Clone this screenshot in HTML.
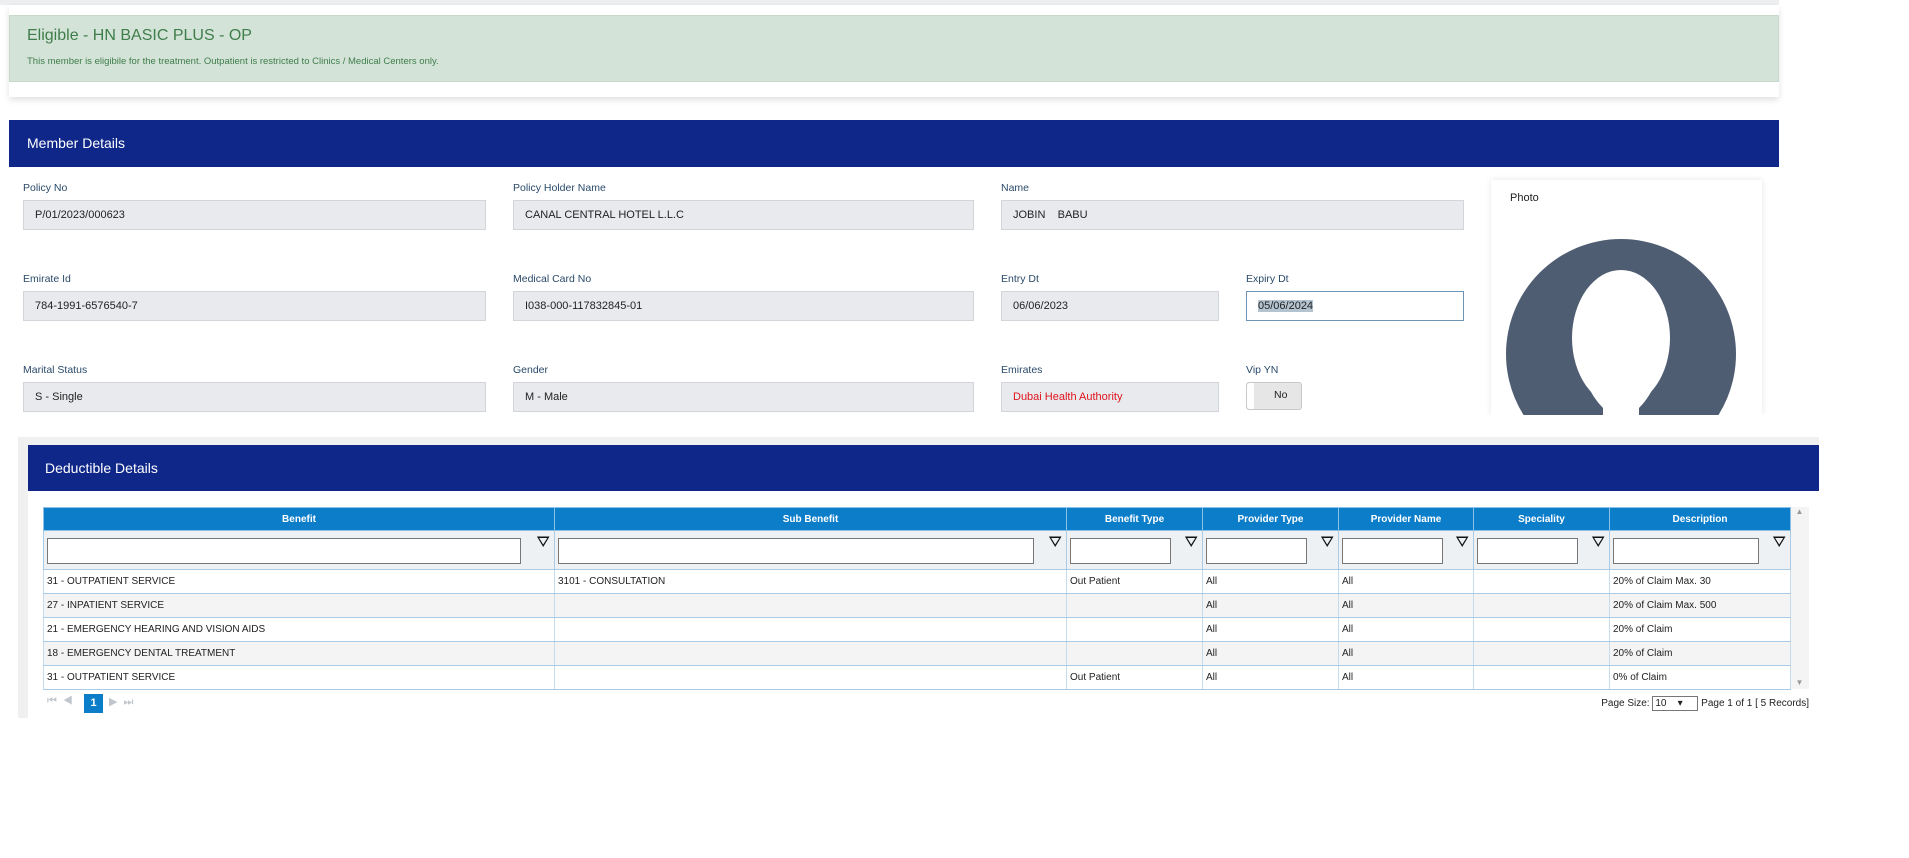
<!DOCTYPE html>
<html><head><style>
*{box-sizing:border-box;margin:0;padding:0}
body{width:1909px;height:858px;background:#fff;position:relative;overflow:hidden;font-family:"Liberation Sans",sans-serif}
.a{position:absolute}
.lbl{position:absolute;font-size:10.5px;color:#2a4a6a}
.inp{position:absolute;height:30px;background:#e8eaed;border:1px solid #d2d6da;font-size:11px;color:#222;padding-left:11px;line-height:28px}
.hdr{position:absolute;background:#0f2789;color:#fff;font-size:14px}
table{border-collapse:collapse;font-size:10px;color:#222;table-layout:fixed}
td,th{border:1px solid #a9cbe8;padding:0 3px;white-space:nowrap;overflow:hidden}
th{background:#0b7dc9;color:#fff;font-size:10px;height:23px;border-color:#8ec0e6}
tr.f td{background:#eef1f4;height:39px;position:relative}
tr.r td{height:24px;border-left:1px solid #c6dced;border-right:1px solid #c6dced;background:#fff}
tr.s td{background:#f4f4f4}
.fi{position:absolute;left:3px;bottom:5px;height:26px;border:1px solid #777;background:#fff}
.fn{position:absolute;right:4px;top:3px;font-size:16px;color:#111}
</style></head><body>
<div class="a" style="left:0;top:0;width:1779px;height:5px;background:#eceef0"></div>
<div class="a" style="left:9px;top:5px;width:1770px;height:92px;background:#fff;box-shadow:0 3px 6px rgba(0,0,0,.12)"></div>
<div class="a" style="left:9px;top:15px;width:1770px;height:67px;background:#d3e3d8;border:1px solid #c6d9cb"></div>
<div class="a" style="left:27px;top:27px;font-size:16px;color:#3f7d4a">Eligible - HN BASIC PLUS - OP</div>
<div class="a" style="left:27px;top:56px;font-size:9.5px;color:#3f7d4a">This member is eligibile for the treatment. Outpatient is restricted to Clinics / Medical Centers only.</div>

<div class="hdr" style="left:9px;top:120px;width:1770px;height:47px;line-height:47px;padding-left:18px">Member Details</div>

<div class="lbl" style="left:23px;top:182px">Policy No</div>
<div class="lbl" style="left:513px;top:182px">Policy Holder Name</div>
<div class="lbl" style="left:1001px;top:182px">Name</div>
<div class="inp" style="left:23px;top:200px;width:463px">P/01/2023/000623</div>
<div class="inp" style="left:513px;top:200px;width:461px">CANAL CENTRAL HOTEL L.L.C</div>
<div class="inp" style="left:1001px;top:200px;width:463px">JOBIN&nbsp;&nbsp;&nbsp; BABU</div>

<div class="lbl" style="left:23px;top:273px">Emirate Id</div>
<div class="lbl" style="left:513px;top:273px">Medical Card No</div>
<div class="lbl" style="left:1001px;top:273px">Entry Dt</div>
<div class="lbl" style="left:1246px;top:273px">Expiry Dt</div>
<div class="inp" style="left:23px;top:291px;width:463px">784-1991-6576540-7</div>
<div class="inp" style="left:513px;top:291px;width:461px">I038-000-117832845-01</div>
<div class="inp" style="left:1001px;top:291px;width:218px">06/06/2023</div>
<div class="inp" style="left:1246px;top:291px;width:218px;background:#fff;border-color:#6e93b6"><span style="background:#b3c3cf">05/06/2024</span></div>

<div class="lbl" style="left:23px;top:364px">Marital Status</div>
<div class="lbl" style="left:513px;top:364px">Gender</div>
<div class="lbl" style="left:1001px;top:364px">Emirates</div>
<div class="lbl" style="left:1246px;top:364px">Vip YN</div>
<div class="inp" style="left:23px;top:382px;width:463px">S - Single</div>
<div class="inp" style="left:513px;top:382px;width:461px">M - Male</div>
<div class="inp" style="left:1001px;top:382px;width:218px;color:#e0141e">Dubai Health Authority</div>
<div class="a" style="left:1246px;top:382px;width:56px;height:28px;background:#e6e6e6;border:1px solid #c8c8c8;border-radius:3px;font-size:10.5px;line-height:24px;padding-left:27px;color:#222">No</div>
<div class="a" style="left:1247px;top:383px;width:7px;height:26px;background:#fff;border-radius:3px 0 0 3px"></div>

<div class="a" style="left:1491px;top:180px;width:271px;height:235px;background:#fff;box-shadow:0 0 6px rgba(0,0,0,.1);overflow:hidden">
<div class="a" style="left:19px;top:12px;font-size:11px;color:#222">Photo</div>
<svg class="a" style="left:14px;top:58px" width="232" height="232"><circle cx="116" cy="116" r="115" fill="#4f5d73"/>
<ellipse cx="116" cy="100" rx="49" ry="68" fill="#fff"/>
<path d="M72 110 Q78 150 98 170 L98 190 Q60 205 35 232 L197 232 Q172 205 134 190 L134 170 Q154 150 160 110 Z" fill="#fff"/></svg>
</div>
<div class="a" style="left:0;top:415px;width:1909px;height:443px;background:#fff"></div>

<div class="a" style="left:18px;top:437px;width:1801px;height:281px;background:#f0f0f0"></div>
<div class="a" style="left:28px;top:445px;width:1791px;height:273px;background:#fff"></div>
<div class="hdr" style="left:28px;top:445px;width:1791px;height:46px;line-height:46px;padding-left:17px">Deductible Details</div>

<div class="a" style="left:43px;top:507px;width:1766px;height:182px;border:1px solid #a9cbe8;border-bottom:2px solid #a9cbe8;background:#fff"></div>
<div class="a" style="left:1790px;top:507px;width:19px;height:182px;background:#f4f4f4;font-size:8px;color:#999;text-align:center">▲<div style="position:absolute;bottom:2px;width:19px">▼</div></div>
<table class="a" style="left:43px;top:507px;width:1747px">
<colgroup><col style="width:511px"><col style="width:512px"><col style="width:136px"><col style="width:136px"><col style="width:135px"><col style="width:136px"><col style="width:181px"></colgroup>
<tr><th>Benefit</th><th>Sub Benefit</th><th>Benefit Type</th><th>Provider Type</th><th>Provider Name</th><th>Speciality</th><th>Description</th></tr>
<tr class="f"><td><div class="fi" style="width:474px"></div><span class="fn">⛛</span></td><td><div class="fi" style="width:476px"></div><span class="fn">⛛</span></td><td><div class="fi" style="width:101px"></div><span class="fn">⛛</span></td><td><div class="fi" style="width:101px"></div><span class="fn">⛛</span></td><td><div class="fi" style="width:101px"></div><span class="fn">⛛</span></td><td><div class="fi" style="width:101px"></div><span class="fn">⛛</span></td><td><div class="fi" style="width:146px"></div><span class="fn">⛛</span></td></tr>
<tr class="r"><td>31 - OUTPATIENT SERVICE</td><td>3101 - CONSULTATION</td><td>Out Patient</td><td>All</td><td>All</td><td></td><td>20% of Claim Max. 30</td></tr>
<tr class="r s"><td>27 - INPATIENT SERVICE</td><td></td><td></td><td>All</td><td>All</td><td></td><td>20% of Claim Max. 500</td></tr>
<tr class="r"><td>21 - EMERGENCY HEARING AND VISION AIDS</td><td></td><td></td><td>All</td><td>All</td><td></td><td>20% of Claim</td></tr>
<tr class="r s"><td>18 - EMERGENCY DENTAL TREATMENT</td><td></td><td></td><td>All</td><td>All</td><td></td><td>20% of Claim</td></tr>
<tr class="r"><td>31 - OUTPATIENT SERVICE</td><td></td><td>Out Patient</td><td>All</td><td>All</td><td></td><td>0% of Claim</td></tr>
</table>

<div class="a" style="left:47px;top:695px;font-size:11px;color:#c0c6cc;letter-spacing:6px">⏮◀</div>
<div class="a" style="left:84px;top:694px;width:19px;height:19px;background:#0b7dc9;color:#fff;font-size:11px;font-weight:bold;text-align:center;line-height:19px">1</div>
<div class="a" style="left:109px;top:695px;font-size:11px;color:#c0c6cc;letter-spacing:6px">▶⏭</div>
<div class="a" style="right:100px;top:696px;font-size:10px;color:#222">Page Size: <span style="display:inline-block;width:46px;height:15px;border:1px solid #777;vertical-align:middle;font-size:10px;line-height:13px;padding-left:2px">10 &nbsp;&nbsp;&nbsp;▾</span> Page 1 of 1 [ 5 Records]</div>
</body></html>
